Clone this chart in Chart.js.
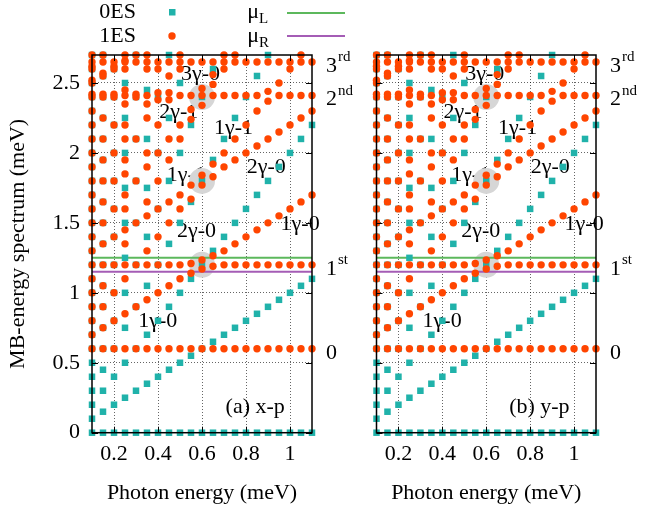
<!DOCTYPE html>
<html><head><meta charset="utf-8">
<script src="https://cdn.jsdelivr.net/npm/chart.js@4"></script>
<style>
html,body{margin:0;padding:0;background:#fff;}
#wrap{position:relative;width:660px;height:510px;overflow:hidden;background:#fff;}
canvas{position:absolute;top:0;}
</style></head><body>
<div id="wrap">
<canvas id="ca" width="360" height="510" style="left:0px"></canvas>
<canvas id="cb" width="300" height="510" style="left:360px"></canvas>
</div>
<script>
// ---------------- data ----------------
const photonEnergy = [0.10,0.15,0.20,0.25,0.30,0.35,0.40,0.45,0.50,0.55,0.60,0.65,0.70,0.75,0.80,0.85,0.90,0.95,1.00,1.05,1.10];

// 0ES energies (one list per photon energy)
const zeroES = [
 [0,0.1,0.2,0.3,0.4,0.5,0.6,0.7,0.8,0.9,1.0,1.1,1.2,1.3,1.4,1.5,1.6,1.7,1.8,1.9,2.0,2.1,2.2,2.3,2.4,2.5,2.6,2.7],
 [0,0.15,0.3,0.45,0.6,0.75,0.9,1.05,1.2,1.35,1.5,1.65,1.8,1.95,2.1,2.25,2.4,2.55,2.7],
 [0,0.2,0.4,0.6,0.8,1.0,1.2,1.4,1.6,1.8,2.0,2.2,2.4,2.6],
 [0,0.25,0.5,0.75,1.0,1.25,1.5,1.75,2.0,2.25,2.5],
 [0,0.3,0.6,0.9,1.2,1.5,1.8,2.1,2.4,2.7],
 [0,0.35,0.7,1.05,1.4,1.75,2.1,2.45],
 [0,0.4,0.8,1.2,1.6,2.0,2.4],
 [0,0.45,0.9,1.35,1.8,2.25,2.7],
 [0,0.5,1.0,1.5,2.0,2.5],
 [0,0.55,1.1,1.65,2.2],
 [0,0.6,1.2,1.8,2.4],
 [0,0.65,1.3,1.95,2.6],
 [0,0.7,1.4,2.1],
 [0,0.75,1.5,2.25],
 [0,0.8,1.6,2.4],
 [0,0.85,1.7,2.55],
 [0,0.9,1.8,2.7],
 [0,0.95,1.9],
 [0,1.0,2.0],
 [0,1.05,2.1],
 [0,1.1,2.2]
];

// 1ES energies (one list per photon energy)
const oneES = [
 [0.6,0.7,0.8,0.9,1.0,1.1,1.2,1.3,1.4,1.5,1.6,1.7,1.8,1.9,2.0,2.1,2.2,2.3,2.4,2.5,2.6,2.7,2.42,2.52,2.62,2.65],
 [0.6,0.75,0.9,1.05,1.2,1.35,1.5,1.65,1.8,1.95,2.1,2.25,2.4,2.55,2.7,2.42,2.57,2.65],
 [0.6,0.8,1.0,1.2,1.4,1.6,1.8,2.0,2.2,2.4,2.6,2.42,2.62,2.65],
 [0.6,0.85,1.1,1.35,1.6,1.85,2.1,2.35,2.6,1.2,1.45,1.7,1.95,2.2,2.45,2.7,2.41,2.66,2.65],
 [0.6,0.9,1.2,1.5,1.8,2.1,2.4,2.7,2.42,2.65],
 [0.6,0.95,1.3,1.65,2.0,2.35,2.7,1.2,1.55,1.9,2.25,2.6,2.41,2.65],
 [0.6,1.0,1.4,1.8,2.2,2.6,1.2,1.6,2.0,2.38,2.43,2.65],
 [0.6,1.05,1.5,1.95,2.38,1.2,1.65,2.1,2.55,2.43,2.65],
 [0.6,1.1,1.6,2.1,2.6,1.2,1.7,2.2,2.7,2.41,2.65],
 [0.6,1.14,1.67,2.24,1.21,1.77,2.31,2.41,2.65],
 [0.6,1.17,1.235,1.77,1.84,2.34,2.41,2.46,2.65],
 [0.6,1.265,1.92,2.56,1.19,1.83,2.49,2.41,2.65],
 [0.6,1.3,2.0,2.7,1.2,1.9,2.6,2.41,2.65],
 [0.6,1.35,2.1,1.2,1.95,2.7,2.41,2.65],
 [0.6,1.4,2.2,1.2,2.0,2.41,2.65],
 [0.6,1.45,2.3,1.2,2.05,2.41,2.65],
 [0.6,1.5,2.37,1.2,2.1,2.44,2.65],
 [0.6,1.55,2.5,1.2,2.15,2.41,2.65],
 [0.6,1.6,2.6,1.2,2.2,2.41,2.65],
 [0.6,1.65,2.7,1.2,2.25,2.41,2.65],
 [0.6,1.7,1.2,2.3,2.41,2.65]
];

const muL = 1.25;
const muR = 1.15;
const xTicks = [0.2,0.4,0.6,0.8,1];
const yTicks = [0,0.5,1,1.5,2,2.5];
const levelEnergies = [0.6,1.2,2.41,2.65];
const levelNames = [['0',''],['1','st'],['2','nd'],['3','rd']];
const resonancePoints = [[0.6,1.2],[0.6,1.8],[0.6,2.4]];
const branchLabels = ['3γ-0','2γ-1','1γ-1','1γ-1','2γ-0','2γ-0','1γ-0','1γ-0'];
const branchLabelX = [0.593,0.494,0.743,0.44,0.892,0.575,1.046,0.399];
const branchLabelY = [2.56,2.29,2.18,1.84,1.898,1.44,1.49,0.798];

// ---------------- drawing ----------------
const FONT = "'Liberation Serif','Times New Roman',serif";
const TEAL = '#20b2aa';
const ORANGE = '#ff4500';
const GREEN = '#5cb85c';
const PURPLE = '#a45cb5';

function toPoints(table){
  const out = [];
  table.forEach((col,i)=>col.forEach(v=>out.push({x:photonEnergy[i], y:v})));
  return out;
}

function decorPlugin(isLeft, panelText){
  return {
    id:'decor'+(isLeft?'A':'B'),
    beforeDatasetsDraw(chart){
      const {ctx, scales:{x,y}} = chart;
      ctx.save();
      ctx.fillStyle = '#000';
      ctx.font = '22px ' + FONT;
      ctx.textBaseline = 'middle';
      branchLabels.forEach((t,i)=>{
        ctx.textAlign = (i===3) ? 'left' : 'center';
        ctx.fillText(t, x.getPixelForValue(branchLabelX[i]), y.getPixelForValue(branchLabelY[i]));
      });
      ctx.textAlign = 'center';
      ctx.fillText(panelText, x.getPixelForValue(0.842), y.getPixelForValue(0.18));
      ctx.fillStyle = '#d6d6d6';
      resonancePoints.forEach(([rx,ry])=>{
        ctx.beginPath();
        ctx.arc(x.getPixelForValue(rx), y.getPixelForValue(ry), 13, 0, Math.PI*2);
        ctx.fill();
      });
      ctx.restore();
    },
    afterDraw(chart){
      const {ctx, chartArea:a, scales:{x,y}} = chart;
      ctx.save();
      ctx.strokeStyle = '#000';
      ctx.lineWidth = 1.5;
      ctx.strokeRect(a.left, a.top, a.right-a.left, a.bottom-a.top);
      ctx.lineWidth = 1;
      ctx.beginPath();
      xTicks.forEach(v=>{
        const px = Math.round(x.getPixelForValue(v))+0.5;
        ctx.moveTo(px, a.bottom); ctx.lineTo(px, a.bottom-6);
        ctx.moveTo(px, a.top); ctx.lineTo(px, a.top+6);
      });
      yTicks.forEach(v=>{
        const py = Math.round(y.getPixelForValue(v))+0.5;
        ctx.moveTo(a.left, py); ctx.lineTo(a.left+6, py);
        ctx.moveTo(a.right, py); ctx.lineTo(a.right-6, py);
      });
      ctx.stroke();
      // level labels on the right
      ctx.fillStyle = '#000';
      ctx.textBaseline = 'middle';
      ctx.textAlign = 'left';
      levelEnergies.forEach((e,i)=>{
        const py = y.getPixelForValue(e) + 4;
        const px = a.right + 14;
        ctx.font = '22px ' + FONT;
        ctx.fillText(levelNames[i][0], px, py);
        const w = ctx.measureText(levelNames[i][0]).width;
        ctx.font = '15px ' + FONT;
        ctx.fillText(levelNames[i][1], px + w + 1, py - 9);
      });
      if (isLeft){
        ctx.font = '22px ' + FONT;
        ctx.textAlign = 'right';
        ctx.fillText('0ES', 136, 12);
        ctx.fillText('1ES', 136, 36);
        ctx.fillStyle = TEAL;
        ctx.fillRect(169, 9, 6.5, 6.5);
        ctx.fillStyle = ORANGE;
        ctx.beginPath(); ctx.arc(172, 36, 3.7, 0, Math.PI*2); ctx.fill();
        ctx.fillStyle = '#000';
        ctx.fillText('μ', 259, 12);
        ctx.fillText('μ', 259, 36);
        ctx.textAlign = 'left';
        ctx.font = '15px ' + FONT;
        ctx.fillText('L', 259, 19);
        ctx.fillText('R', 259, 43);
        ctx.lineWidth = 2;
        ctx.strokeStyle = GREEN;
        ctx.beginPath(); ctx.moveTo(287, 13); ctx.lineTo(345, 13); ctx.stroke();
        ctx.strokeStyle = PURPLE;
        ctx.beginPath(); ctx.moveTo(287, 36); ctx.lineTo(345, 36); ctx.stroke();
      }
      ctx.restore();
    }
  };
}

function makeChart(canvasId, isLeft, panelText){
  const xMin = photonEnergy[0] , xMax = photonEnergy[photonEnergy.length-1];
  return new Chart(document.getElementById(canvasId), {
    type:'scatter',
    data:{
      datasets:[
        {label:'1ES', data:toPoints(oneES), pointStyle:'circle', pointRadius:3.7, backgroundColor:ORANGE, borderWidth:0, order:0, clip:false},
        {label:'0ES', data:toPoints(zeroES), pointStyle:'rect', pointRadius:4.6, backgroundColor:TEAL, borderWidth:0, order:1, clip:false},
        {label:'μL', data:[{x:xMin,y:muL},{x:xMax,y:muL}], showLine:true, borderColor:GREEN, borderWidth:2, pointRadius:0, order:2},
        {label:'μR', data:[{x:xMin,y:muR},{x:xMax,y:muR}], showLine:true, borderColor:PURPLE, borderWidth:2, pointRadius:0, order:3}
      ]
    },
    options:{
      responsive:false,
      animation:false,
      devicePixelRatio:1,
      events:[],
      layout:{padding: isLeft ? {left:0,right:48,top:55,bottom:0} : {left:0,right:64,top:55,bottom:0}},
      plugins:{legend:{display:false}, tooltip:{enabled:false}},
      scales:{
        x:{
          type:'linear', min:0.1, max:1.1,
          afterBuildTicks:s=>{ s.ticks = xTicks.map(v=>({value:v})); },
          afterFit:s=>{ s.height = 77.3; },
          ticks:{font:{family:FONT,size:22}, color:'#000', padding:8, maxRotation:0, autoSkip:false, callback:v=>String(v)},
          grid:{color:'rgba(0,0,0,0.6)', lineWidth:1, drawTicks:false},
          border:{display:false, dash:[1,2]},
          title:{display:true, text:'Photon energy (meV)', font:{family:FONT,size:22}, color:'#000', padding:{top:0,bottom:4}}
        },
        y:{
          type:'linear', min:0, max:2.7,
          afterBuildTicks:s=>{ s.ticks = yTicks.map(v=>({value:v})); },
          afterFit:s=>{ s.width = isLeft ? 92 : 16.5; },
          ticks:{display:isLeft, font:{family:FONT,size:22}, color:'#000', padding:12, callback:v=>String(v)},
          grid:{color:'rgba(0,0,0,0.6)', lineWidth:1, drawTicks:false},
          border:{display:false, dash:[1,2]},
          title:{display:isLeft, text:'MB-energy spectrum (meV)', font:{family:FONT,size:22}, color:'#000', padding:{top:5,bottom:0}}
        }
      }
    },
    plugins:[decorPlugin(isLeft, panelText)]
  });
}

makeChart('ca', true, '(a) x-p');
makeChart('cb', false, '(b) y-p');
</script>
</body></html>
